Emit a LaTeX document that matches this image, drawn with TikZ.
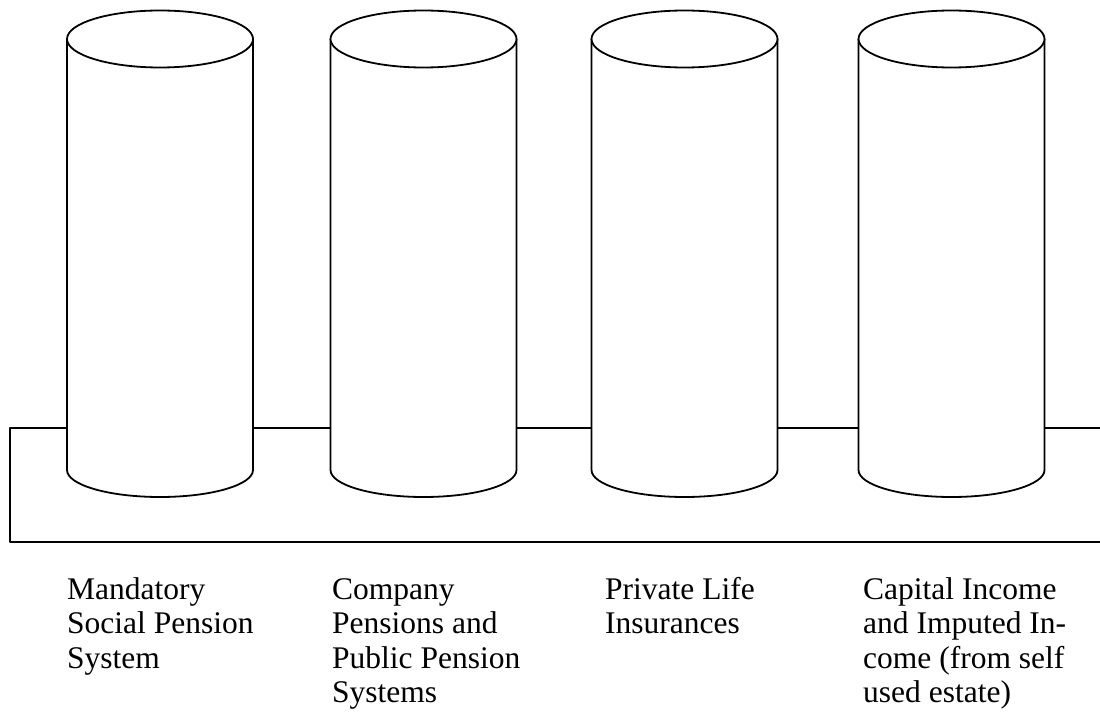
\documentclass[tikz,border=0pt]{standalone}
\usepackage{fontspec}
\setmainfont{Liberation Serif}
\usetikzlibrary{positioning,calc}

\begin{document}
\begin{tikzpicture}[x=1pt,y=1pt]
  \useasboundingbox (0,0) rectangle (1100,716);
  \begin{scope}[
    pillarline/.style={
      draw,
      line width=1.8pt,
      line join=round,
    },
    ]
    % base
    \draw [pillarline] (1100,288) -- (10,288) -- (10,174) -- (1100,174);

    % pillars
    \foreach \cx/\name in {160/mand,423.5/comp,684.5/priv,951.5/capi} {
      \coordinate (\name top) at (\cx,677);
      \coordinate (\name bot) at (\cx,246);
      \fill [white] ($(\name top)+(-93,0)$) -- ($(\name bot)+(-93,0)$)
        arc [start angle=180,end angle=360,x radius=93,y radius=27]
        -- ($(\name top)+(93,0)$) -- cycle;
      \draw [pillarline] ($(\name top)+(-93,0)$) -- ($(\name bot)+(-93,0)$)
        arc [start angle=180,end angle=360,x radius=93,y radius=27]
        -- ($(\name top)+(93,0)$);
      \draw [pillarline,fill=white] (\name top) ellipse [x radius=93,y radius=28.5];
    }
  \end{scope}
  \begin{scope}[
    every node/.style={
      anchor=base west,
      align=left,
      inner sep=0pt,
      font=\fontsize{31.5}{34.5}\selectfont,
    },
    ]
    % labels (base = last line)
    \node (mandlabel) at (67,48) {Mandatory\\Social Pension\\System};
    \node (complabel) at (332,13.5) {Company\\Pensions and\\Public Pension\\Systems};
    \node (privlabel) at (605,82.5) {Private Life\\Insurances};
    \node (capilabel) at (863,13.5) {Capital Income\\and Imputed In-\\come (from self\\used estate)};
  \end{scope}
\end{tikzpicture}
\end{document}
